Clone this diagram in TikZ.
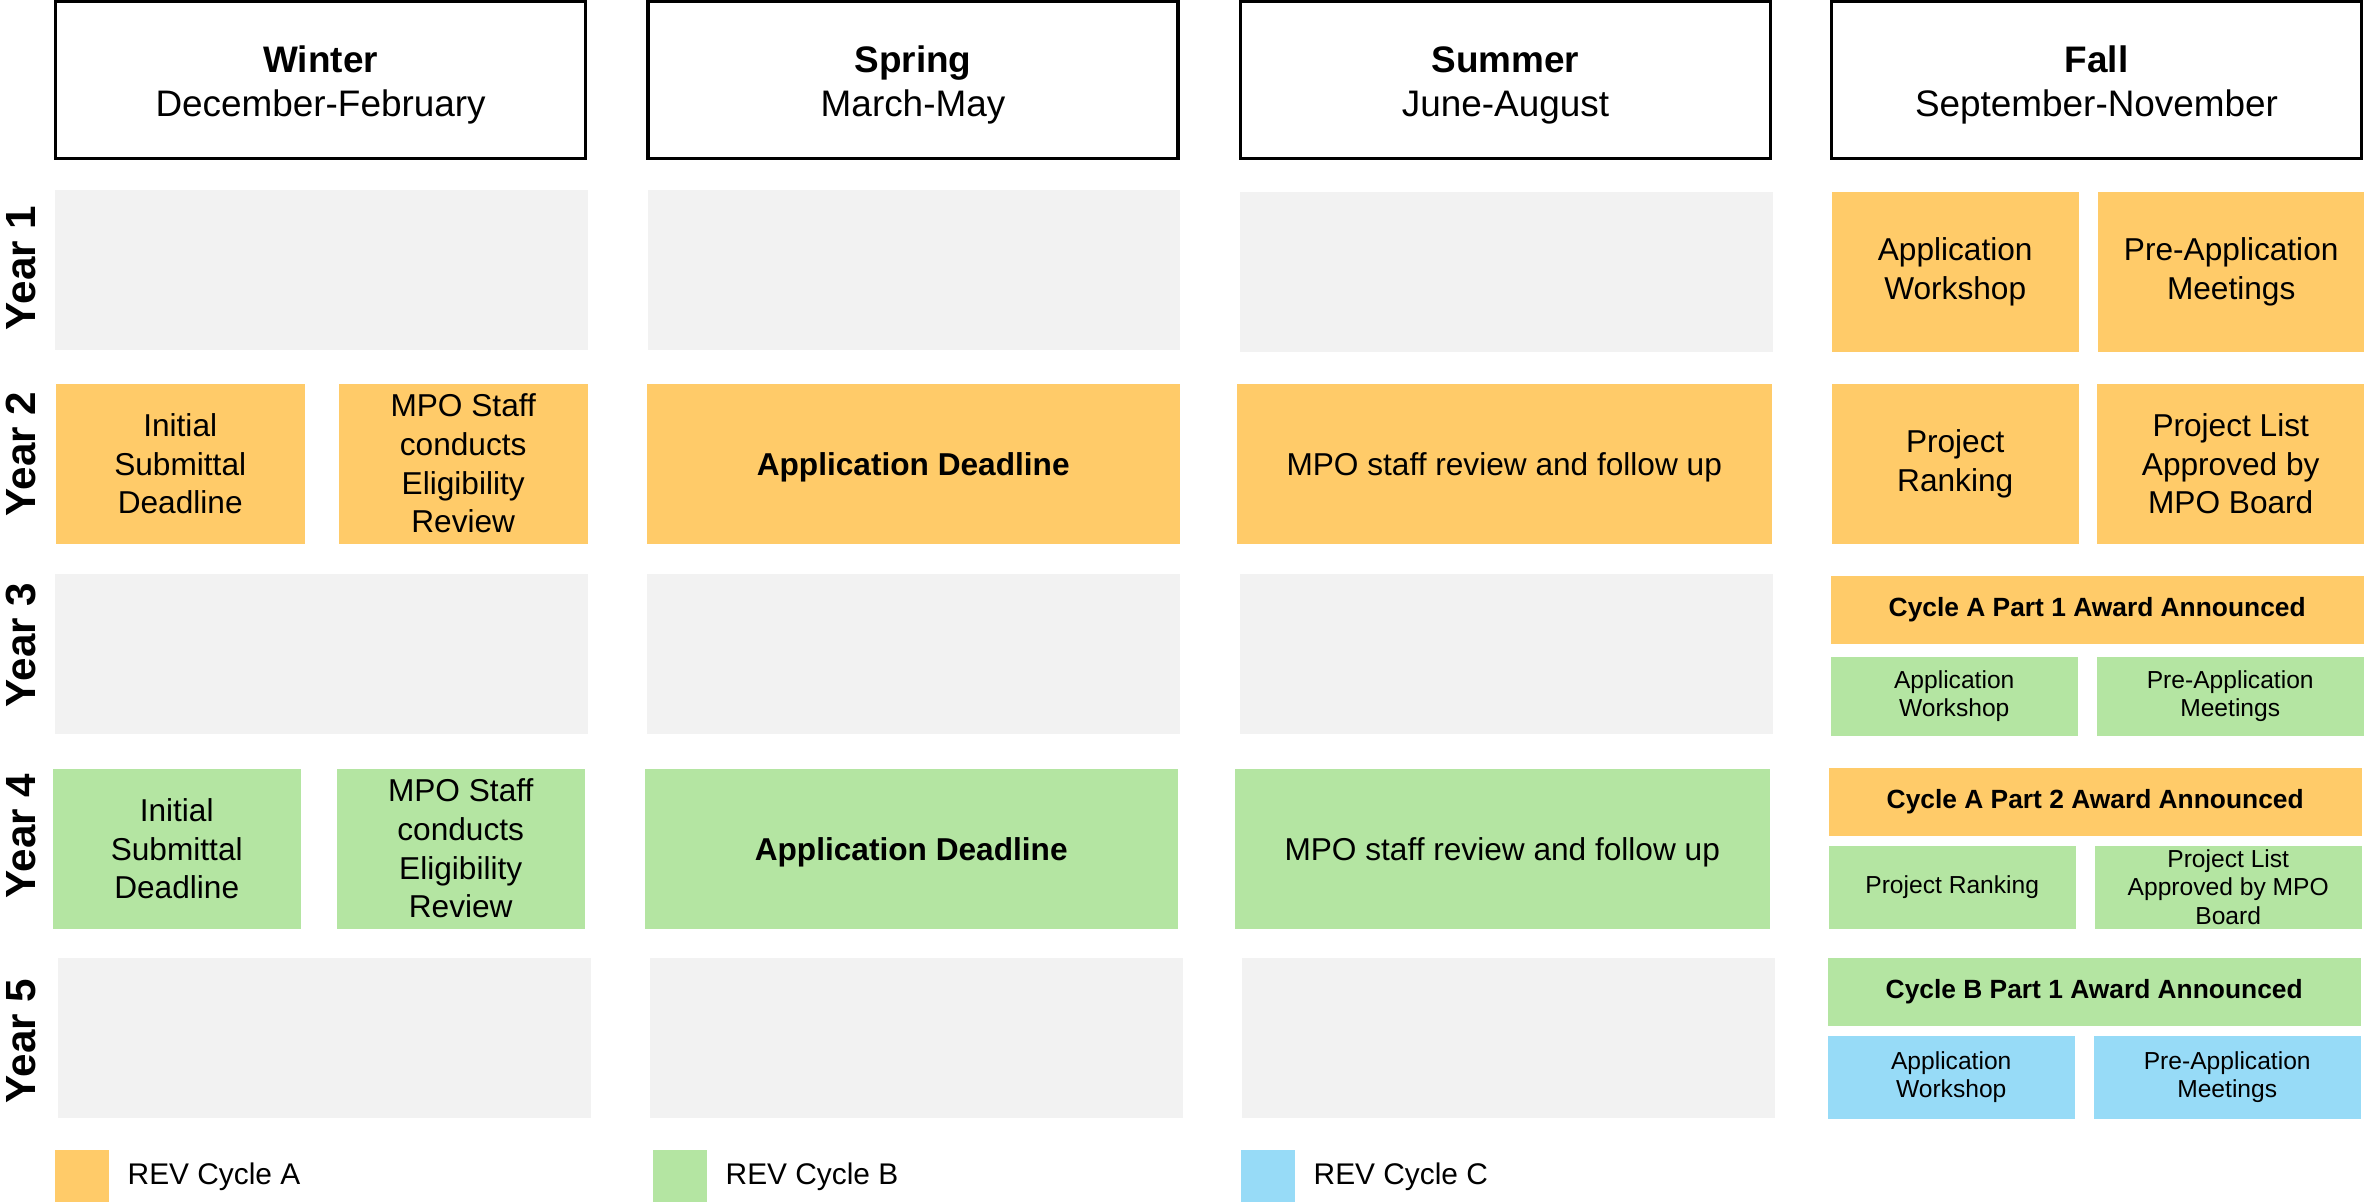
\documentclass[tikz,border=0pt]{standalone}
\usepackage{fontspec}
\setmainfont{Liberation Sans}
\usepackage{tikz}
\definecolor{cycA}{HTML}{FFCB69}
\definecolor{cycB}{HTML}{B4E5A2}
\definecolor{cycC}{HTML}{97DBF7}
\definecolor{idle}{HTML}{F2F2F2}
\newcommand{\seasonhead}[2]{\rule{0pt}{10.3pt}\textbf{#1}\\#2}

\begin{document}
\begin{tikzpicture}[
	cell/.style={anchor=north west, inner sep=0pt, align=center, minimum height=1.6cm, font=\fontsize{9}{11}\selectfont},
	season/.style={draw, line width=1pt, minimum width=5.3cm, minimum height=1.57cm, inner sep=0pt, align=center, font=\fontsize{10.5}{12.6}\selectfont},
	yearlbl/.style={rotate=90, inner sep=0pt, font=\bfseries\fontsize{12}{14}\selectfont},
	smalltxt/.style={font=\fontsize{7}{8.2}\selectfont},
	banner/.style={minimum height=0.68cm, font=\bfseries\fontsize{7.5}{9}\selectfont},
	keybox/.style={anchor=north west, minimum width=0.54cm, minimum height=0.53cm, inner sep=0pt},
	keytext/.style={anchor=west, inner sep=0pt, font=\fontsize{8.5}{10}\selectfont}
]
	\useasboundingbox (0,0) rectangle (23.64,-12.02);
	\node [season] (winter) at (3.206,-0.80) {\seasonhead{Winter}{December-February}};
	\node [season] (spring) at (9.13,-0.80) {\seasonhead{Spring}{March-May}};
	\node [season] (summer) at (15.055,-0.80) {\seasonhead{Summer}{June-August}};
	\node [season] (fall) at (20.965,-0.80) {\seasonhead{Fall}{September-November}};

	\node [yearlbl] (y1) at (0.21,-2.68) {Year 1};
	\node [yearlbl] (y2) at (0.21,-4.54) {Year 2};
	\node [yearlbl] (y3) at (0.21,-6.45) {Year 3};
	\node [yearlbl] (y4) at (0.21,-8.36) {Year 4};
	\node [yearlbl] (y5) at (0.21,-10.41) {Year 5};

	\node [cell, fill=idle, minimum width=5.33cm] (w1) at (0.54,-1.89) {};
	\node [cell, fill=idle, minimum width=5.32cm] (sp1) at (6.47,-1.89) {};
	\node [cell, fill=idle, minimum width=5.33cm] (su1) at (12.39,-1.91) {};
	\node [cell, fill=cycA, minimum width=2.47cm] (f1a) at (18.31,-1.91) {Application\\Workshop};
	\node [cell, fill=cycA, minimum width=2.67cm] (f1b) at (20.97,-1.91) {Pre-Application\\Meetings};

	\node [cell, fill=cycA, minimum width=2.49cm] (w2a) at (0.55,-3.83) {Initial\\Submittal\\Deadline};
	\node [cell, fill=cycA, minimum width=2.49cm] (w2b) at (3.38,-3.83) {MPO Staff\\conducts\\Eligibility\\Review};
	\node [cell, fill=cycA, minimum width=5.33cm, text depth=0pt] (sp2) at (6.46,-3.83) {\textbf{Application Deadline}};
	\node [cell, fill=cycA, minimum width=5.35cm, text depth=0pt] (su2) at (12.36,-3.83) {MPO staff review and follow up};
	\node [cell, fill=cycA, minimum width=2.47cm] (f2a) at (18.31,-3.83) {Project\\Ranking};
	\node [cell, fill=cycA, minimum width=2.68cm] (f2b) at (20.96,-3.83) {Project List\\Approved by\\MPO Board};

	\node [cell, fill=idle, minimum width=5.33cm] (w3) at (0.54,-5.73) {};
	\node [cell, fill=idle, minimum width=5.33cm] (sp3) at (6.46,-5.73) {};
	\node [cell, fill=idle, minimum width=5.33cm] (su3) at (12.39,-5.73) {};
	\node [cell, banner, fill=cycA, minimum width=5.33cm] (f3) at (18.30,-5.75) {Cycle A Part 1 Award Announced};
	\node [cell, smalltxt, fill=cycB, minimum width=2.47cm, minimum height=0.79cm] (f3a) at (18.30,-6.56) {Application\\Workshop};
	\node [cell, smalltxt, fill=cycB, minimum width=2.67cm, minimum height=0.79cm] (f3b) at (20.96,-6.56) {Pre-Application\\Meetings};

	\node [cell, fill=cycB, minimum width=2.48cm] (w4a) at (0.52,-7.68) {Initial\\Submittal\\Deadline};
	\node [cell, fill=cycB, minimum width=2.48cm] (w4b) at (3.36,-7.68) {MPO Staff\\conducts\\Eligibility\\Review};
	\node [cell, fill=cycB, minimum width=5.33cm, text depth=0pt] (sp4) at (6.44,-7.68) {\textbf{Application Deadline}};
	\node [cell, fill=cycB, minimum width=5.35cm, text depth=0pt] (su4) at (12.34,-7.68) {MPO staff review and follow up};
	\node [cell, banner, fill=cycA, minimum width=5.33cm] (f4) at (18.28,-7.67) {Cycle A Part 2 Award Announced};
	\node [cell, smalltxt, fill=cycB, minimum width=2.47cm, minimum height=0.83cm] (f4a) at (18.28,-8.45) {Project Ranking};
	\node [cell, smalltxt, fill=cycB, minimum width=2.67cm, minimum height=0.83cm] (f4b) at (20.94,-8.45) {Project List\\Approved by MPO\\Board};

	\node [cell, fill=idle, minimum width=5.33cm] (w5) at (0.57,-9.57) {};
	\node [cell, fill=idle, minimum width=5.33cm] (sp5) at (6.49,-9.57) {};
	\node [cell, fill=idle, minimum width=5.33cm] (su5) at (12.41,-9.57) {};
	\node [cell, banner, fill=cycB, minimum width=5.33cm] (f5) at (18.27,-9.57) {Cycle B Part 1 Award Announced};
	\node [cell, smalltxt, fill=cycC, minimum width=2.47cm, minimum height=0.83cm] (f5a) at (18.27,-10.35) {Application\\Workshop};
	\node [cell, smalltxt, fill=cycC, minimum width=2.67cm, minimum height=0.83cm] (f5b) at (20.93,-10.35) {Pre-Application\\Meetings};

	\node [keybox, fill=cycA] (ka) at (0.54,-11.49) {};
	\node [keytext] (ta) at (1.27,-11.77) {REV Cycle A};
	\node [keybox, fill=cycB] (kb) at (6.52,-11.49) {};
	\node [keytext] (tb) at (7.25,-11.77) {REV Cycle B};
	\node [keybox, fill=cycC] (kc) at (12.40,-11.49) {};
	\node [keytext] (tc) at (13.13,-11.77) {REV Cycle C};
\end{tikzpicture}
\end{document}
